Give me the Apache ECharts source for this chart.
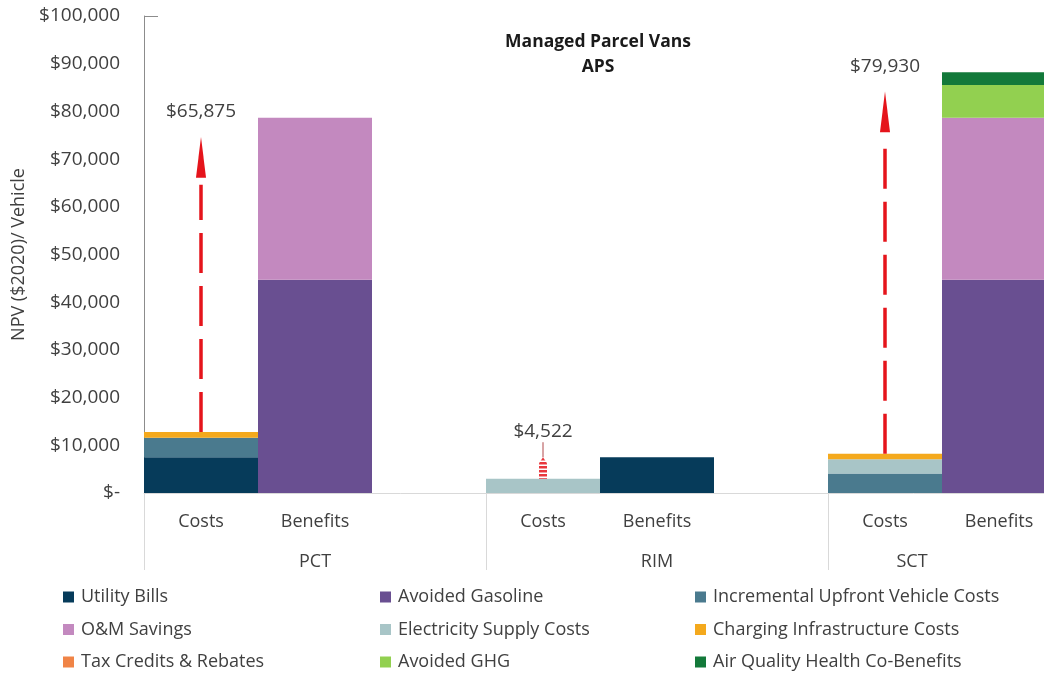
<!DOCTYPE html>
<html>
<head>
<meta charset="utf-8">
<script src="https://cdn.jsdelivr.net/npm/echarts@6/dist/echarts.min.js"></script>
<style>
  html, body { margin: 0; padding: 0; background: #fff; width: 1044px; height: 675px; overflow: hidden; }
  /* the plot runs past the right edge of the window; the canvas is wider and clipped by the page */
  #chart { width: 1200px; height: 675px; }
</style>
</head>
<body>
<div id="chart"></div>
<script>
// Cost-effectiveness tests and the two sides compared in each
const tests = ['PCT', 'RIM', 'SCT'];
const sides = ['Costs', 'Benefits'];

// NPV ($2020) per vehicle, one value per slot:
// PCT Costs, PCT Benefits, (gap), RIM Costs, RIM Benefits, (gap), SCT Costs, SCT Benefits, (gap)
const utilityBills        = [7500, 0, 0,    0, 7500, 0,    0,     0, 0];
const avoidedGasoline     = [0, 44700, 0,   0, 0, 0,       0, 44700, 0];
const incrementalUpfront  = [4100, 0, 0,    0, 0, 0,    4100,     0, 0];
const omSavings           = [0, 33950, 0,   0, 0, 0,       0, 33950, 0];
const electricitySupply   = [0, 0, 0,    2978, 0, 0,    2978,     0, 0];
const chargingInfra       = [1175, 0, 0,    0, 0, 0,    1175,     0, 0];
const taxCredits          = [0, 0, 0,       0, 0, 0,       0,     0, 0];
const avoidedGHG          = [0, 0, 0,       0, 0, 0,       0,  6900, 0];
const airQuality          = [0, 0, 0,       0, 0, 0,       0,  2633, 0];

// Net benefit (benefits minus costs) per test
const netBenefit = [65875, 4522, 79930];

// Y axis ticks
const yMin = 0, yMax = 100000, yStep = 10000;

const seriesDefs = [
  { name: 'Utility Bills', data: utilityBills, color: '#063b5a' },
  { name: 'Avoided Gasoline', data: avoidedGasoline, color: '#694f91' },
  { name: 'Incremental Upfront Vehicle Costs', data: incrementalUpfront, color: '#4a7a8e' },
  { name: 'O&M Savings', data: omSavings, color: '#c389bf' },
  { name: 'Electricity Supply Costs', data: electricitySupply, color: '#a8c5c7' },
  { name: 'Charging Infrastructure Costs', data: chargingInfra, color: '#f4a91d' },
  { name: 'Tax Credits & Rebates', data: taxCredits, color: '#f08446' },
  { name: 'Avoided GHG', data: avoidedGHG, color: '#92d050' },
  { name: 'Air Quality Health Co-Benefits', data: airQuality, color: '#13793a' }
];

// Category keys: "<test>|<side>" plus an empty spacer slot after each test
const categories = [];
tests.forEach(t => {
  sides.forEach(s => categories.push(t + '|' + s));
  categories.push(t + '|');
});

// Cost stack height under each test's "Costs" slot, and the arrow spanning the net benefit
const arrowData = tests.map((t, i) => {
  const idx = categories.indexOf(t + '|Costs');
  const costTotal = seriesDefs.reduce((acc, s) => acc + (s.data[idx] || 0), 0);
  return [idx, costTotal, costTotal + netBenefit[i], netBenefit[i]];
});

const FONT = '"Open Sans", "DejaVu Sans", sans-serif';
const TEXT = '#404040';
const RED = '#e5141b';

function fmtMoney(v) {
  if (v === 0) return '$-';
  return '$' + Math.round(v).toLocaleString('en-US');
}

function renderArrow(params, api) {
  const x = api.value(0);
  const p0 = api.coord([x, api.value(1)]);
  const p1 = api.coord([x, api.value(2)]);
  const cx = p0[0];
  const len = p0[1] - p1[1];
  const label = fmtMoney(api.value(3));
  const children = [];
  if (len > 80) {
    const tip = p1[1] + 19, headLen = 41, headHalf = 5;
    children.push({
      type: 'line',
      shape: { x1: cx, y1: p0[1], x2: cx, y2: tip + headLen + 7 },
      style: { stroke: RED, lineWidth: 3.5, lineDash: [40, 13] }
    });
    children.push({
      type: 'polygon',
      shape: { points: [[cx, tip], [cx - headHalf, tip + headLen], [cx + headHalf, tip + headLen]] },
      style: { fill: RED }
    });
    children.push({
      type: 'text',
      style: { x: cx, y: p1[1] - 6, text: label, fill: TEXT, font: '19px ' + FONT,
               textAlign: 'center', textVerticalAlign: 'middle' }
    });
  } else {
    children.push({
      type: 'polygon',
      shape: { points: [[cx, p1[1]], [cx - 4, p1[1] + 6], [cx - 4, p0[1]], [cx + 4, p0[1]], [cx + 4, p1[1] + 6]] },
      style: { fill: RED, opacity: 0.85 }
    });
    // horizontal white stripes give the dotted look
    for (let y = p1[1] + 4; y < p0[1]; y += 4) {
      children.push({
        type: 'line',
        shape: { x1: cx - 5, y1: y, x2: cx + 5, y2: y },
        style: { stroke: '#fff', lineWidth: 1.5 }
      });
    }
    children.push({
      type: 'line',
      shape: { x1: cx, y1: p1[1], x2: cx, y2: p1[1] - 15 },
      style: { stroke: '#b0484a', lineWidth: 1 }
    });
    children.push({
      type: 'text',
      style: { x: cx, y: p1[1] - 26, text: label, fill: TEXT, font: '19px ' + FONT,
               textAlign: 'center', textVerticalAlign: 'middle' }
    });
  }
  return { type: 'group', children };
}

const legendCols = [
  ['Utility Bills', 'O&M Savings', 'Tax Credits & Rebates'],
  ['Avoided Gasoline', 'Electricity Supply Costs', 'Avoided GHG'],
  ['Incremental Upfront Vehicle Costs', 'Charging Infrastructure Costs', 'Air Quality Health Co-Benefits']
];
const legendLeft = [63, 380, 695];

// The last group's label sits within the visible part of its group
const groupAxisData = tests.map((t, i) =>
  i === tests.length - 1 ? { value: t, textStyle: { padding: [0, 174, 0, 0] } } : t
);

const chart = echarts.init(document.getElementById('chart'), null, { renderer: 'canvas' });

chart.setOption({
  animation: false,
  backgroundColor: '#fff',
  textStyle: { fontFamily: FONT },
  graphic: [
    {
      type: 'text', x: 598, y: 42,
      style: { text: 'Managed Parcel Vans', font: 'bold 17.5px ' + FONT, fill: '#1a1a1a',
               textAlign: 'center', textVerticalAlign: 'middle' }
    },
    {
      type: 'text', x: 598, y: 67,
      style: { text: 'APS', font: 'bold 17.5px ' + FONT, fill: '#1a1a1a',
               textAlign: 'center', textVerticalAlign: 'middle' }
    },
    // short tick closing the top of the value axis
    {
      type: 'line',
      shape: { x1: 144, y1: 16.5, x2: 158, y2: 16.5 },
      style: { stroke: '#8c8c8c', lineWidth: 1 }
    }
  ],
  legend: legendCols.map((col, i) => ({
    data: col,
    orient: 'vertical',
    left: legendLeft[i],
    top: 587,
    padding: 0,
    itemWidth: 11,
    itemHeight: 11,
    itemGap: 12.5,
    icon: 'rect',
    selectedMode: false,
    textStyle: { fontSize: 18, color: TEXT, fontFamily: FONT, lineHeight: 20, padding: [0, 0, 0, 2] }
  })),
  grid: { left: 144, top: 16, width: 1026, height: 477, containLabel: false },
  xAxis: [
    {
      type: 'category',
      data: categories,
      position: 'bottom',
      axisLine: { show: true, lineStyle: { color: '#d9d9d9', width: 1 } },
      axisTick: { show: false },
      axisLabel: {
        interval: 0, margin: 20, fontSize: 18, color: TEXT, fontFamily: FONT,
        formatter: v => v.split('|')[1]
      }
    },
    {
      type: 'category',
      data: groupAxisData,
      position: 'bottom',
      axisLine: { show: false },
      axisTick: { show: true, length: 77, lineStyle: { color: '#d9d9d9', width: 1 } },
      axisLabel: { interval: 0, margin: 60, fontSize: 18, color: TEXT, fontFamily: FONT }
    }
  ],
  yAxis: {
    type: 'value',
    min: yMin, max: yMax, interval: yStep,
    name: 'NPV ($2020)/ Vehicle',
    nameLocation: 'middle',
    nameGap: 116,
    nameRotate: 90,
    nameTextStyle: { fontSize: 18, color: TEXT, fontFamily: FONT },
    axisLine: { show: true, lineStyle: { color: '#8c8c8c', width: 1 } },
    axisTick: { show: false },
    splitLine: { show: false },
    axisLabel: { margin: 24, fontSize: 19, color: TEXT, fontFamily: FONT, formatter: fmtMoney }
  },
  series: seriesDefs.map(s => ({
    name: s.name,
    type: 'bar',
    stack: 'npv',
    xAxisIndex: 0,
    barWidth: '100%',
    itemStyle: { color: s.color },
    data: s.data.map(v => (v === 0 ? null : v))
  })).concat([{
    type: 'custom',
    name: 'net',
    xAxisIndex: 0,
    renderItem: renderArrow,
    encode: { x: 0, y: [1, 2] },
    data: arrowData,
    z: 10
  }])
});
</script>
</body>
</html>
